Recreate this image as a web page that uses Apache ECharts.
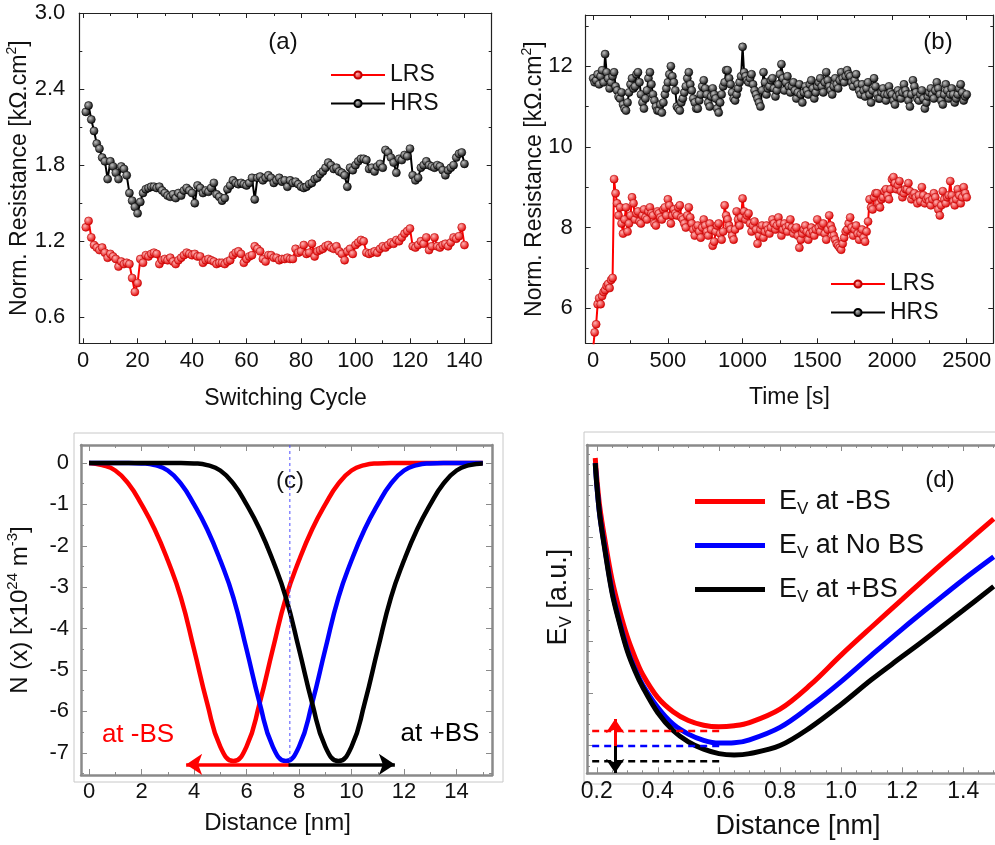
<!DOCTYPE html>
<html><head><meta charset="utf-8">
<script src="https://cdn.jsdelivr.net/npm/echarts@6/dist/echarts.min.js"></script>
<style>html,body{margin:0;padding:0;background:#fff}#c{width:995px;height:845px}</style>
</head><body><div id="c"></div>
<script>
// ---------- Panel (a): switching cycles ----------
const aCycle = Array.from({length:140},(_,i)=>i+1);
const aHRS = [
2.22,2.27,2.16,2.07,1.97,1.93,1.86,1.83,1.69,1.83,
1.79,1.74,1.69,1.79,1.77,1.72,1.58,1.52,1.47,1.42,
1.51,1.58,1.61,1.62,1.63,1.63,1.62,1.63,1.60,1.58,
1.56,1.55,1.57,1.54,1.58,1.56,1.60,1.62,1.60,1.58,
1.50,1.64,1.62,1.58,1.60,1.59,1.62,1.66,1.57,1.55,
1.52,1.54,1.61,1.64,1.68,1.66,1.65,1.66,1.65,1.64,
1.66,1.70,1.53,1.70,1.71,1.68,1.70,1.72,1.70,1.66,
1.68,1.70,1.67,1.68,1.63,1.68,1.66,1.67,1.65,1.63,
1.62,1.63,1.65,1.66,1.69,1.70,1.73,1.75,1.78,1.82,
1.80,1.77,1.78,1.75,1.74,1.72,1.63,1.78,1.76,1.80,
1.83,1.85,1.85,1.84,1.77,1.78,1.75,1.79,1.81,1.78,
1.92,1.90,1.86,1.82,1.74,1.85,1.84,1.88,1.87,1.93,
1.72,1.68,1.70,1.78,1.80,1.83,1.80,1.79,1.78,1.80,
1.79,1.76,1.72,1.76,1.78,1.80,1.86,1.89,1.90,1.81];
const aLRS = [
1.31,1.36,1.23,1.17,1.15,1.13,1.15,1.11,1.07,1.10,
1.08,1.06,1.00,1.04,1.02,1.03,1.02,0.91,0.80,0.87,
1.06,1.03,1.09,1.08,1.10,1.11,1.10,1.02,1.05,1.06,
1.05,1.07,1.04,1.02,1.05,1.07,1.09,1.11,1.10,1.09,
1.10,1.08,1.08,1.03,1.05,1.06,1.05,1.04,1.02,1.03,
1.03,1.02,1.04,1.05,1.09,1.11,1.12,1.10,1.03,1.06,
1.08,1.09,1.16,1.14,1.12,1.06,1.04,1.09,1.09,1.07,
1.07,1.05,1.06,1.06,1.07,1.06,1.06,1.14,1.11,1.12,
1.17,1.10,1.11,1.18,1.08,1.12,1.13,1.14,1.16,1.17,
1.15,1.14,1.16,1.12,1.10,1.05,1.12,1.14,1.10,1.17,
1.19,1.21,1.20,1.11,1.10,1.11,1.12,1.11,1.14,1.16,
1.15,1.17,1.19,1.18,1.21,1.20,1.23,1.26,1.28,1.30,
1.16,1.15,1.17,1.20,1.18,1.23,1.13,1.16,1.23,1.16,
1.15,1.17,1.18,1.16,1.19,1.23,1.22,1.24,1.31,1.17];
const aXTicks = [0,20,40,60,80,100,120,140];
const aYTicks = [0.6,1.2,1.8,2.4,3.0];

// ---------- Panel (b): retention in time (every 10 s) ----------
const bTime = Array.from({length:251},(_,i)=>i*10);
const bHRS = [
11.70,11.60,11.65,11.80,11.55,11.75,11.90,11.60,12.30,11.85,
11.70,11.45,11.60,11.75,11.85,11.50,11.40,11.25,11.20,11.35,
11.05,10.95,10.90,11.10,11.35,11.55,11.70,11.45,11.50,11.80,
11.85,11.60,11.30,11.10,10.95,11.20,11.40,11.70,11.85,11.55,
11.30,11.15,11.00,10.90,10.90,11.05,10.85,11.10,11.30,11.45,
11.60,11.80,12.00,11.75,11.60,11.40,11.00,10.95,10.90,11.10,
11.20,11.35,11.50,11.70,11.85,11.55,11.40,11.20,11.10,10.95,
10.95,11.15,11.30,11.50,11.65,11.45,11.30,11.10,11.00,11.25,
11.45,11.30,11.20,10.95,10.85,11.10,11.30,11.50,11.60,11.90,
11.90,11.70,11.55,11.35,11.20,11.15,11.30,11.45,11.60,11.75,
12.48,11.85,11.75,11.65,11.60,11.70,11.80,11.55,11.40,11.30,
11.20,11.10,11.00,11.40,11.85,11.60,11.30,11.45,11.50,11.65,
11.70,11.45,11.25,11.40,11.55,11.80,12.05,11.70,11.40,11.60,
11.75,11.50,11.35,11.50,11.60,11.40,11.20,11.35,11.55,11.30,
11.10,11.35,11.50,11.40,11.30,11.55,11.65,11.45,11.20,11.35,
11.50,11.60,11.70,11.50,11.35,11.60,11.85,11.65,11.50,11.40,
11.30,11.50,11.70,11.55,11.45,11.65,11.85,11.70,11.60,11.75,
11.90,11.80,11.75,11.60,11.50,11.65,11.80,11.55,11.40,11.30,
11.55,11.40,11.25,11.45,11.60,11.30,11.10,11.40,11.70,11.50,
11.30,11.20,11.20,11.35,11.45,11.30,11.15,11.30,11.50,11.35,
11.30,11.15,11.05,11.25,11.40,11.30,11.20,11.35,11.55,11.40,
11.30,11.15,11.00,11.30,11.65,11.50,11.35,11.20,11.15,11.30,
11.40,11.20,10.95,11.10,11.25,11.35,11.45,11.30,11.20,11.40,
11.60,11.45,11.30,11.15,11.05,11.30,11.55,11.40,11.20,11.30,
11.45,11.30,11.10,11.20,11.30,11.45,11.55,11.35,11.15,11.25,
11.30];
const bLRS = [
5.00,5.40,5.60,6.10,6.25,6.10,6.30,6.40,6.45,6.55,
6.60,6.50,6.70,6.75,9.20,8.85,8.60,8.30,8.50,8.10,
7.85,8.20,8.50,7.90,8.10,8.30,8.75,8.60,8.20,8.35,
8.40,8.15,8.10,8.30,8.45,8.25,8.20,8.40,8.50,8.35,
8.30,8.10,8.05,8.40,8.35,8.25,8.20,8.45,8.50,8.30,
8.70,8.55,8.10,8.30,8.45,8.35,8.30,8.50,8.55,8.25,
8.20,8.10,8.00,8.30,8.50,8.25,8.10,7.95,7.80,8.00,
8.05,7.90,7.75,8.00,8.20,8.05,7.90,7.80,8.10,7.95,
7.55,7.65,7.90,8.05,8.10,7.85,7.70,7.90,8.55,8.30,
8.20,8.05,7.95,7.80,7.70,7.95,8.40,8.20,8.05,8.25,
8.72,8.40,8.20,8.30,8.35,8.10,7.90,8.05,8.15,7.95,
7.60,7.80,7.95,8.05,7.75,7.90,8.05,7.95,7.85,8.00,
8.20,8.10,7.95,8.05,8.25,8.10,7.80,7.95,8.10,8.00,
7.90,8.05,8.20,8.00,7.85,7.95,8.00,7.80,7.50,7.70,
7.85,7.95,8.05,7.90,7.70,7.85,8.00,7.90,7.80,7.95,
8.20,8.00,7.90,8.05,8.10,7.85,7.70,7.95,8.30,8.05,
7.95,7.80,7.70,7.60,7.55,7.50,7.45,7.60,7.75,7.90,
7.95,8.10,8.25,8.00,7.80,7.95,8.05,7.85,7.70,7.85,
7.95,7.75,7.65,7.90,8.15,8.70,8.50,8.45,8.75,8.85,
8.85,8.60,8.50,8.70,8.75,8.90,8.95,8.80,8.70,8.95,
9.20,9.25,9.10,8.95,9.05,9.15,8.90,8.75,8.85,8.95,
8.95,9.10,8.90,8.70,8.80,8.85,8.75,8.60,8.80,8.65,
9.00,8.80,8.60,8.70,8.75,8.65,8.55,8.70,8.85,8.75,
8.60,8.45,8.30,8.55,8.90,8.70,8.60,8.75,8.80,9.15,
8.80,8.65,8.55,8.70,8.95,8.80,8.60,8.75,9.00,8.85,
8.75];
const bXTicks = [0,500,1000,1500,2000,2500];
const bYTicks = [6,8,10,12];

// ---------- Panel (c): N(x) profiles ----------
const cX = Array.from({length:31},(_,i)=>i*0.5);
const cMinusBS = [0,-0.05,-0.18,-0.5,-1.0,-1.6,-2.35,-3.25,-4.5,-5.8,-6.85,-7.2,-6.85,-5.8,-4.5,-3.25,-2.35,-1.6,-1.0,-0.5,-0.18,-0.05,-0.01,0,0,0,0,0,0,0,0];
const cNoBS    = [0,0,0,0,-0.01,-0.05,-0.18,-0.5,-1.0,-1.6,-2.35,-3.25,-4.5,-5.8,-6.85,-7.2,-6.85,-5.8,-4.5,-3.25,-2.35,-1.6,-1.0,-0.5,-0.18,-0.05,-0.01,0,0,0,0];
const cPlusBS  = [0,0,0,0,0,0,0,0,-0.01,-0.05,-0.18,-0.5,-1.0,-1.6,-2.35,-3.25,-4.5,-5.8,-6.85,-7.2,-6.85,-5.8,-4.5,-3.25,-2.35,-1.6,-1.0,-0.5,-0.18,-0.05,-0.01];
const cXTicks = [0,2,4,6,8,10,12,14];
const cYTicks = [0,-1,-2,-3,-4,-5,-6,-7];

// ---------- Panel (d): E_V potential ----------
const dX = [0.195,0.2,0.21,0.225,0.25,0.275,0.3,0.325,0.35,0.4,0.45,0.5,0.55,0.6,0.65,0.7,0.8,0.9,1.0,1.1,1.2,1.3,1.4,1.5];
const dMinusBS = [55.2,51.4,45.7,40.0,31.8,25.8,20.8,16.9,13.6,9.1,6.4,4.7,3.8,3.5,3.7,4.3,6.9,11.6,17.3,22.7,28.0,33.3,38.4,43.5];
const dNoBS    = [54.2,50.1,44.1,38.4,29.6,23.6,18.4,14.6,11.6,7.2,4.0,2.1,0.9,0.37,0.43,1.0,3.4,7.5,12.2,17.3,22.3,27.1,31.8,36.2];
const dPlusBS  = [54.2,50.1,44.1,38.1,29.3,23.3,18.1,14.3,11.2,6.2,2.8,0.6,-0.8,-1.65,-1.9,-1.65,-0.1,3.4,7.8,12.6,17.0,21.4,25.9,30.5];
const dLevels  = [2.7,-0.2,-3.1];
const dXTicks = [0.2,0.4,0.6,0.8,1.0,1.2,1.4];

// ---------- rendering ----------
const F = '"Liberation Sans", Arial, Helvetica, sans-serif';
const TXT = '#111';
const chart = echarts.init(document.getElementById('c'));

function range(a,b,s){const r=[];for(let v=a;v<=b+1e-9;v+=s)r.push(+v.toFixed(4));return r;}
function minorOf(all, major){return all.filter(v=>!major.some(m=>Math.abs(m-v)<1e-6));}

function axes(dim,g,c){
  const isX = dim==='x';
  const pos = isX?['bottom','top']:['left','right'];
  const common = {gridIndex:g,type:'value',min:c.min,max:c.max,splitLine:{show:false},silent:true,nameMoveOverlap:false};
  const line = {show:true,onZero:false,lineStyle:{color:c.lineColor,width:c.lineWidth}};
  const noLine = {show:false,onZero:false};
  const tk = (vals,len)=>({show:true,inside:true,length:len,customValues:vals,lineStyle:{color:c.tickColor,width:1}});
  const main = Object.assign({},common,{position:pos[0],axisLine:line,axisTick:tk(c.major,c.majLen),
    axisLabel:{show:c.labels!==false,customValues:c.major,formatter:c.fmt,fontSize:c.labelSize,fontFamily:F,color:TXT,margin:c.labelMargin},
    name:c.name||'',nameLocation:'middle',nameGap:c.nameGap||0,nameRotate:isX?0:90,
    nameTextStyle:{fontSize:c.nameSize,fontFamily:F,color:TXT,rich:c.rich,padding:c.namePad||0}});
  return [main,
    Object.assign({},common,{position:pos[0],axisLine:noLine,axisTick:tk(c.minor,c.minLen),axisLabel:{show:false}}),
    Object.assign({},common,{position:pos[1],axisLine:line,axisTick:tk(c.major,c.majLen),axisLabel:{show:false}}),
    Object.assign({},common,{position:pos[1],axisLine:noLine,axisTick:tk(c.minor,c.minLen),axisLabel:{show:false}})];
}

const supRich = (size)=>({n:{fontSize:size,fontFamily:F,color:TXT,lineHeight:size+6},
  s:{fontSize:Math.round(size*0.62),fontFamily:F,color:TXT,lineHeight:Math.round(size*0.55),verticalAlign:'top'},
  v:{fontSize:Math.round(size*0.64),fontFamily:F,color:TXT,lineHeight:Math.round(size*0.55),verticalAlign:'bottom'}});

const blackFrame = {lineColor:'#222',lineWidth:1.2,tickColor:'#222',majLen:5,minLen:3};
const grayFrame = {lineColor:'#8a8a8a',lineWidth:2.5,tickColor:'#8a8a8a',majLen:6,minLen:3};

const xAxes = [].concat(
  axes('x',0,Object.assign({},blackFrame,{min:-1.4,max:150,major:aXTicks,minor:[10,30,50,70,90,110,130],
    fmt:v=>String(v),labelSize:22,labelMargin:7,name:'Switching Cycle',nameGap:44,nameSize:23})),
  axes('x',1,Object.assign({},blackFrame,{min:-50,max:2678,major:bXTicks,minor:[250,750,1250,1750,2250],
    fmt:v=>String(v),labelSize:22,labelMargin:7,name:'Time [s]',nameGap:43,nameSize:23})),
  axes('x',2,Object.assign({},grayFrame,{min:-0.305,max:15.35,major:cXTicks,minor:[1,3,5,7,9,11,13,15],
    fmt:v=>String(v),labelSize:22,labelMargin:6,name:'Distance [nm]',nameGap:36,nameSize:24,namePad:[0,18,0,0]})),
  axes('x',3,Object.assign({},grayFrame,{min:0.168,max:1.55,major:dXTicks,minor:minorOf(range(0.2,1.55,0.05),dXTicks),
    fmt:v=>v.toFixed(1),labelSize:23,labelMargin:7,name:'Distance [nm]',nameGap:40,nameSize:27}))
);
const yAxes = [].concat(
  axes('y',0,Object.assign({},blackFrame,{min:0.395,max:3.0,major:aYTicks,minor:[0.9,1.5,2.1,2.7],
    fmt:v=>v.toFixed(1),labelSize:22,labelMargin:14,name:'{n|Norm. Resistance [kΩ.cm}{s|2}{n|]}',nameGap:45,rich:supRich(23)})),
  axes('y',1,Object.assign({},blackFrame,{min:5.13,max:13.27,major:bYTicks,minor:[7,9,11,13],
    fmt:v=>String(v),labelSize:22,labelMargin:13,name:'{n|Norm. Resistance [kΩ.cm}{s|2}{n|]}',nameGap:37,rich:supRich(23)})),
  axes('y',2,Object.assign({},grayFrame,{min:-7.536,max:0.435,major:cYTicks,minor:[-7.5,-6.5,-5.5,-4.5,-3.5,-2.5,-1.5,-0.5],
    fmt:v=>String(v),labelSize:22,labelMargin:12,name:'{n|N (x) [x10}{s|24}{n| m}{s|-3}{n|]}',nameGap:46,rich:supRich(24)})),
  axes('y',3,Object.assign({},grayFrame,{min:-5.44,max:57.7,major:[0,10,20,30,40,50],minor:minorOf(range(-4,56,2),[0,10,20,30,40,50]),
    labels:false,name:'{n|E}{v|V}{n| [a.u.]}',nameGap:12,rich:supRich(27),namePad:[0,0,0,24]}))
);

function grad(c0,c1){return {type:'radial',x:0.38,y:0.35,r:0.65,colorStops:[{offset:0,color:c0},{offset:1,color:c1}]};}
const redMark = grad('#ffb4b4','#e00000');
const blackMark = grad('#c0c0c0','#0a0a0a');

function scatterLine(name,g,xs,ys,lineColor,mark,border){
  return {type:'line',name,xAxisIndex:g*4,yAxisIndex:g*4,data:xs.map((x,i)=>[x,ys[i]]),
    symbol:'circle',symbolSize:8,showSymbol:true,showAllSymbol:true,
    lineStyle:{color:lineColor,width:2},itemStyle:{color:mark,borderColor:border,borderWidth:0.6},z:3};
}
function curve(name,g,xs,ys,color,w,sm){
  return {type:'line',name,xAxisIndex:g*4,yAxisIndex:g*4,data:xs.map((x,i)=>[x,ys[i]]),
    symbol:'none',smooth:sm,lineStyle:{color,width:w},itemStyle:{color},z:3};
}
function arrow(g,from,to,color,w,size){
  return {type:'lines',coordinateSystem:'cartesian2d',xAxisIndex:g*4,yAxisIndex:g*4,
    data:[{coords:[from,to]}],symbol:['none','arrow'],symbolSize:size,
    lineStyle:{color,width:w,opacity:1,curveness:0},z:5,silent:true};
}
function seg(name,g,p1,p2,color,w,type){
  return {type:'line',name,xAxisIndex:g*4,yAxisIndex:g*4,data:[p1,p2],symbol:'none',
    lineStyle:{color,width:w,type},itemStyle:{color},z:4,silent:true};
}

const dNames = ['E_V at -BS','E_V at No BS','E_V at +BS'];
const dColors = ['#ff0000','#0000ff','#000000'];

const series = [
  scatterLine('HRS',0,aCycle,aHRS,'#000',blackMark,'#000'),
  scatterLine('LRS',0,aCycle,aLRS,'#ff0000',redMark,'#c00000'),
  scatterLine('HRS',1,bTime,bHRS,'#000',blackMark,'#000'),
  scatterLine('LRS',1,bTime,bLRS,'#ff0000',redMark,'#c00000'),
  seg('c-guide',2,[7.65,0.435],[7.65,-7.25],'#4d4dff',1,[3,3]),
  curve('c -BS',2,cX,cMinusBS,'#ff0000',4.5,0.5),
  curve('c No BS',2,cX,cNoBS,'#0000ff',4.5,0.5),
  curve('c +BS',2,cX,cPlusBS,'#000000',4.5,0.5),
  arrow(2,[7.65,-7.28],[3.7,-7.28],'#ff0000',3.5,[16,16]),
  arrow(2,[7.6,-7.28],[11.65,-7.28],'#000000',3.5,[16,16]),
  curve(dNames[0],3,dX,dMinusBS,dColors[0],5,0.35),
  curve(dNames[1],3,dX,dNoBS,dColors[1],5,0.35),
  curve(dNames[2],3,dX,dPlusBS,dColors[2],5,0.35),
  seg('d-lvl-r',3,[0.185,dLevels[0]],[0.61,dLevels[0]],'#ff0000',2.5,[7,5]),
  seg('d-lvl-b',3,[0.185,dLevels[1]],[0.61,dLevels[1]],'#0000ff',2.5,[7,5]),
  seg('d-lvl-k',3,[0.185,dLevels[2]],[0.61,dLevels[2]],'#000000',2.5,[7,5]),
  arrow(3,[0.26,dLevels[1]],[0.26,5.0],'#ff0000',3,[15,14]),
  arrow(3,[0.26,dLevels[1]],[0.26,-5.4],'#000000',3,[15,14])
];

const legendRS = (left,top)=>({data:['LRS','HRS'],left,top,orient:'vertical',itemWidth:54,itemHeight:9,itemGap:2.5,
  selectedMode:false,textStyle:{fontSize:23,fontFamily:F,color:TXT,lineHeight:26}});

chart.setOption({
  animation:false,
  backgroundColor:'#fff',
  grid:[
    {left:79.3,top:13,width:412.4,height:330.3,outerBoundsMode:'none',containLabel:false},
    {left:585.7,top:15,width:407.6,height:328.3,outerBoundsMode:'none',containLabel:false},
    {left:81,top:445,width:411,height:330,outerBoundsMode:'none',containLabel:false},
    {left:587,top:445,width:422,height:328.3,outerBoundsMode:'none',containLabel:false}
  ],
  xAxis:xAxes,
  yAxis:yAxes,
  legend:[
    legendRS(325,57),
    legendRS(825,266),
    {data:dNames,left:690,top:483,orient:'vertical',icon:'rect',itemWidth:70,itemHeight:5,itemGap:14,selectedMode:false,
     formatter:n=>'{n|E}{v|V}{n|'+n.replace('E_V','')+'}',
     textStyle:{padding:[0,0,0,9],rich:supRich(27)}}
  ],
  graphic:[
    {type:'rect',shape:{x:74,y:433,width:429,height:349},style:{fill:'none',stroke:'#c8c8c8',lineWidth:1},z:-1},
    {type:'rect',shape:{x:584,y:432,width:420,height:352},style:{fill:'none',stroke:'#c8c8c8',lineWidth:1},z:-1},
    {type:'text',x:283,y:42,style:{text:'(a)',font:'24px '+F,fill:TXT,align:'center',verticalAlign:'middle'}},
    {type:'text',x:938,y:42,style:{text:'(b)',font:'24px '+F,fill:TXT,align:'center',verticalAlign:'middle'}},
    {type:'text',x:290,y:481,style:{text:'(c)',font:'24px '+F,fill:TXT,align:'center',verticalAlign:'middle'}},
    {type:'text',x:940,y:480,style:{text:'(d)',font:'24px '+F,fill:TXT,align:'center',verticalAlign:'middle'}},
    {type:'text',x:138,y:735,style:{text:'at -BS',font:'26px '+F,fill:'#ff0000',align:'center',verticalAlign:'middle'}},
    {type:'text',x:440,y:734,style:{text:'at +BS',font:'26px '+F,fill:'#000',align:'center',verticalAlign:'middle'}}
  ],
  series
});
</script></body></html>
